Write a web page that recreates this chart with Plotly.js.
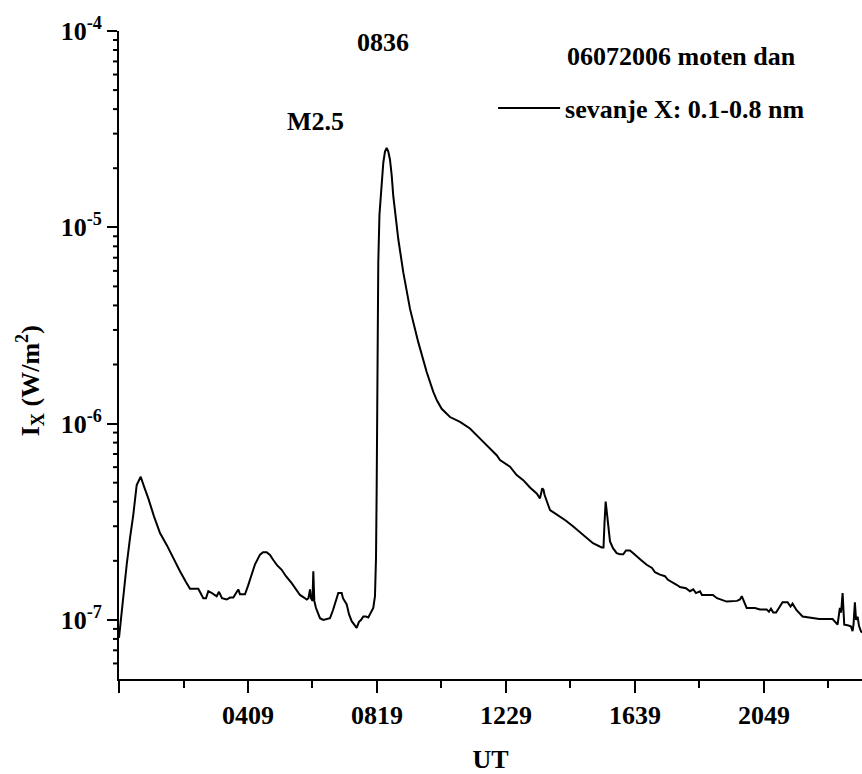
<!DOCTYPE html>
<html>
<head>
<meta charset="utf-8">
<script src="https://cdn.plot.ly/plotly-3.0.1.min.js"></script>
<style>html,body{margin:0;padding:0;background:#fff;}#chart{width:862px;height:774px;}</style>
</head>
<body>
<div id="chart"></div>
<script>
// time (minutes from 00:00 UT, sample index) and GOES X-ray flux 0.1-0.8 nm (W/m^2)
const timeMin = [0,1.9,7.8,14.9,21.3,27.7,34.3,42.1,48.4,56.8,
67.8,79.5,92.4,104.6,118.2,129.8,137.6,153.7,163.4,168.6,
173.1,180.2,189.3,193.8,199.6,208.7,215.1,221.5,226.7,231.2,
234.5,244.2,250,257.2,263.6,273.3,279.1,286.2,292.6,299,
306.2,315.3,323.6,334.7,343,350.8,358.5,363.8,367.2,370.2,
372.1,375,376.6,378.5,381.8,385.7,389.5,395.9,403.1,408.9,
414.7,418.6,425,431.6,434.1,441.3,445.7,451,455.4,460.6,
465.1,469,473.4,478.7,483.1,488.3,492.8,496.1,498.1,499.4,
500.6,501.4,502.5,504.8,507.2,509.7,512.2,515.5,518.8,521.9,
525.2,528.5,531.6,536.8,541.3,551,564,580,596.3,609.1,
616.3,625.4,641.5,660.9,680.2,706,732,738.4,757.8,770.7,
783.5,796.5,809.5,815.9,818.8,820.3,822.7,824.6,828.3,835.3,
845,854.7,866.3,880.4,893.4,906.4,918.6,935.5,939,940.9,
943.2,945.7,948.6,951.6,957.4,964.5,970.9,977.3,982.6,990.3,
996.1,1003.3,1011.6,1022.7,1033,1038.8,1048.4,1058.1,1063.9,1080.8,
1087.2,1098.8,1106.6,1113,1118.2,1126,1129.8,1138.9,1151,1159,
1177.7,1197.7,1203.5,1207,1209.9,1216.5,1232.6,1242.2,1255.2,1259.7,
1263.6,1268,1273.5,1286,1295.7,1301.5,1305.4,1313.2,1324.8,1357.2,
1383,1388.8,1392.7,1397.1,1399.5,1402.4,1405.6,1412,1418.4,1421.7,
1423.6,1426.2,1428.5,1431.4,1434.3,1437.8,1440];

const flux = [8.1e-8,9.1e-8,1.29e-7,1.91e-7,2.61e-7,3.43e-7,4.87e-7,5.36e-7,4.79e-7,4.16e-7,
3.37e-7,2.77e-7,2.41e-7,2.07e-7,1.77e-7,1.56e-7,1.44e-7,1.44e-7,1.29e-7,1.29e-7,
1.40e-7,1.37e-7,1.32e-7,1.39e-7,1.29e-7,1.27e-7,1.30e-7,1.30e-7,1.36e-7,1.43e-7,
1.35e-7,1.35e-7,1.49e-7,1.70e-7,1.92e-7,2.15e-7,2.21e-7,2.21e-7,2.14e-7,2.02e-7,
1.90e-7,1.80e-7,1.67e-7,1.54e-7,1.44e-7,1.34e-7,1.30e-7,1.27e-7,1.29e-7,1.43e-7,
1.29e-7,1.25e-7,1.77e-7,1.25e-7,1.15e-7,1.07e-7,1.02e-7,1.00e-7,1.01e-7,1.02e-7,
1.12e-7,1.22e-7,1.37e-7,1.37e-7,1.29e-7,1.20e-7,1.07e-7,9.85e-8,9.54e-8,9.1e-8,
9.77e-8,9.99e-8,1.04e-7,1.04e-7,1.03e-7,1.10e-7,1.15e-7,1.32e-7,2.07e-7,4.68e-7,
1.06e-6,2.70e-6,6.64e-6,1.16e-5,1.44e-5,1.79e-5,2.13e-5,2.43e-5,2.54e-5,2.43e-5,
2.21e-5,1.84e-5,1.44e-5,1.10e-5,8.69e-6,5.89e-6,3.84e-6,2.60e-6,1.83e-6,1.45e-6,
1.31e-6,1.19e-6,1.08e-6,1.02e-6,9.44e-7,8.07e-7,6.90e-7,6.52e-7,6.03e-7,5.47e-7,
5.15e-7,4.73e-7,4.41e-7,4.16e-7,4.57e-7,4.68e-7,4.60e-7,4.35e-7,4.08e-7,3.63e-7,
3.49e-7,3.36e-7,3.20e-7,2.99e-7,2.80e-7,2.61e-7,2.46e-7,2.34e-7,2.34e-7,3.10e-7,
4.01e-7,3.49e-7,2.86e-7,2.51e-7,2.32e-7,2.19e-7,2.16e-7,2.16e-7,2.26e-7,2.26e-7,
2.19e-7,2.10e-7,2.02e-7,1.91e-7,1.84e-7,1.75e-7,1.70e-7,1.67e-7,1.60e-7,1.51e-7,
1.47e-7,1.45e-7,1.40e-7,1.43e-7,1.37e-7,1.40e-7,1.34e-7,1.34e-7,1.34e-7,1.29e-7,
1.24e-7,1.25e-7,1.27e-7,1.32e-7,1.27e-7,1.15e-7,1.15e-7,1.13e-7,1.13e-7,1.10e-7,
1.14e-7,1.09e-7,1.09e-7,1.23e-7,1.23e-7,1.17e-7,1.21e-7,1.12e-7,1.04e-7,1.01e-7,
1.01e-7,9.7e-8,9.46e-8,1.15e-7,1.09e-7,1.37e-7,9.46e-8,9.4e-8,9.29e-8,8.77e-8,
9.5e-8,1.23e-7,1.0e-7,1.04e-7,9.3e-8,8.77e-8,8.6e-8];

const xTickVals = [0, 250, 500, 750, 1000, 1250];
const xTickText = ["", "0409", "0819", "1229", "1639", "2049"];
const yTickVals = [1e-7, 1e-6, 1e-5, 1e-4];
const yTickText = ["10<sup>-7</sup>", "10<sup>-6</sup>", "10<sup>-5</sup>", "10<sup>-4</sup>"];
const seriesName = "sevanje X: 0.1-0.8 nm";
const dateLabel = "06072006 moten dan";
const peakTime = "0836";
const flareClass = "M2.5";

const FONT = "Liberation Serif, Times New Roman, serif";
const bold = {family: FONT, size: 26, color: "#000", weight: "bold"};
const yLow = 5e-8, yHigh = 1e-4;
const lLow = Math.log10(yLow), lHigh = Math.log10(yHigh);
const plotW = 743; // px width of plotting area (862 - 119)

// minor log ticks (2..9 x each decade) drawn as short outside tick marks,
// placed through the same log mapping as the axis (paper fraction of the log range)
const minorShapes = [];
for (let e = -8; e <= -5; e++) {
  for (let k = 2; k <= 9; k++) {
    const v = k * Math.pow(10, e);
    if (v <= yLow || v >= yHigh) continue;
    const py = (Math.log10(v) - lLow) / (lHigh - lLow);
    minorShapes.push({type: "line", xref: "paper", yref: "paper",
      x0: -6 / plotW, x1: 0, y0: py, y1: py,
      line: {color: "#000", width: 2}, layer: "above"});
  }
}

const trace = {
  x: timeMin, y: flux, type: "scatter", mode: "lines",
  name: seriesName,
  line: {color: "#000", width: 2}
};

const layout = {
  width: 862, height: 774,
  margin: {l: 119, r: 0, t: 31, b: 95},
  paper_bgcolor: "#fff", plot_bgcolor: "#fff",
  font: bold,
  showlegend: true,
  legend: {x: 0.5035, y: 0.881, xanchor: "left", yanchor: "middle",
           bgcolor: "rgba(0,0,0,0)", font: bold, itemwidth: 62},
  xaxis: {
    range: [0, 1440], showgrid: false, zeroline: false,
    showline: true, linecolor: "#000", linewidth: 2,
    ticks: "outside", ticklen: 12, tickwidth: 2, tickcolor: "#000",
    tickmode: "array", tickvals: xTickVals, ticktext: xTickText,
    tickfont: bold,
    minor: {ticks: "outside", ticklen: 7, tickwidth: 2, tickcolor: "#000", tick0: 0, dtick: 125, showgrid: false},
    title: {text: "UT", font: bold, standoff: 34}
  },
  yaxis: {
    type: "log", range: [lLow, lHigh],
    showgrid: false, zeroline: false,
    showline: true, linecolor: "#000", linewidth: 2,
    ticks: "outside", ticklen: 10, tickwidth: 2, tickcolor: "#000",
    tickmode: "array", tickvals: yTickVals, ticktext: yTickText,
    tickfont: bold
  },
  shapes: minorShapes,
  annotations: [
    {text: "I<sub>X</sub> (W/m<sup>2</sup>)", xref: "paper", yref: "paper",
     x: -0.1198, y: 0.461, textangle: -90, showarrow: false, font: bold,
     xanchor: "center", yanchor: "middle"},
    {text: peakTime, xref: "paper", yref: "paper", x: 0.3553, y: 0.9815,
     showarrow: false, font: bold, xanchor: "center", yanchor: "middle"},
    {text: flareClass, xref: "paper", yref: "paper", x: 0.2638, y: 0.8596,
     showarrow: false, font: bold, xanchor: "center", yanchor: "middle"},
    {text: dateLabel, xref: "paper", yref: "paper", x: 0.757, y: 0.960,
     showarrow: false, font: bold, xanchor: "center", yanchor: "middle"}
  ]
};

Plotly.newPlot("chart", [trace], layout, {displayModeBar: false, staticPlot: true});
</script>
</body>
</html>
